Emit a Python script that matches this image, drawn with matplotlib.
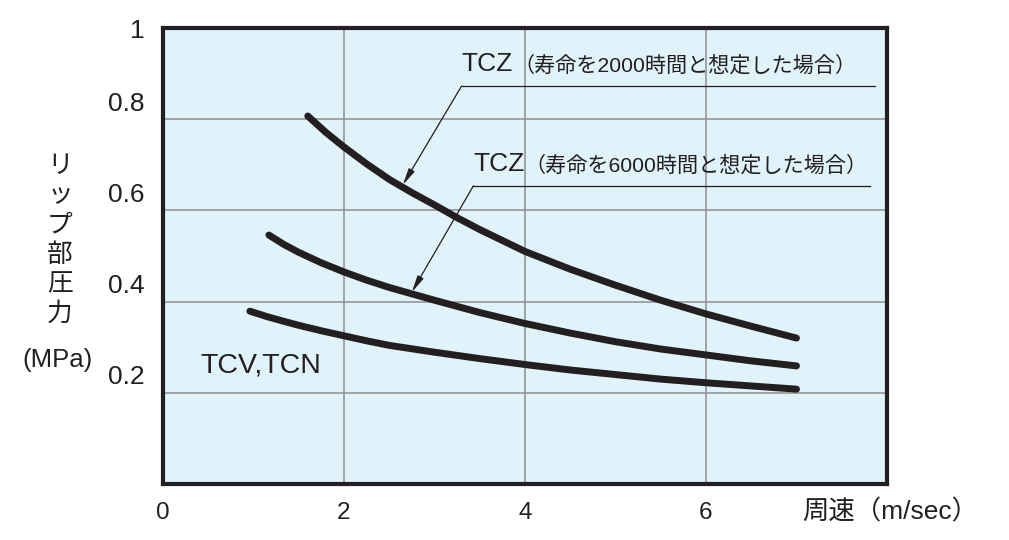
import matplotlib
matplotlib.use("Agg")
import matplotlib.pyplot as plt
import matplotlib.transforms as mtransforms

# data
speed_tcz2000 = [1.6, 1.8, 2.0, 2.25, 2.5, 2.75, 3.0, 3.25, 3.5, 4.0, 4.5, 5.0, 5.5, 6.0, 6.5, 7.0]
press_tcz2000 = [0.807, 0.771, 0.739, 0.702, 0.668, 0.639, 0.612, 0.584, 0.558, 0.51, 0.471, 0.436, 0.403, 0.373, 0.346, 0.32]

speed_tcz6000 = [1.17, 1.33, 1.5, 1.75, 2.0, 2.25, 2.5, 2.75, 3.0, 3.5, 4.0, 4.5, 5.0, 5.5, 6.0, 6.5, 7.0]
press_tcz6000 = [0.546, 0.526, 0.508, 0.485, 0.465, 0.447, 0.431, 0.417, 0.403, 0.376, 0.352, 0.331, 0.312, 0.296, 0.283, 0.27, 0.259]

speed_tcv = [0.96, 1.15, 1.33, 1.5, 1.75, 2.0, 2.25, 2.5, 3.0, 3.5, 4.0, 4.5, 5.0, 5.5, 6.0, 6.5, 7.0]
press_tcv = [0.379, 0.367, 0.357, 0.348, 0.336, 0.325, 0.314, 0.304, 0.289, 0.275, 0.262, 0.25, 0.24, 0.23, 0.222, 0.215, 0.208]

x_ticks = [0, 2, 4, 6]
x_ticklabels = ["0", "2", "4", "6"]
y_ticks = [0.2, 0.4, 0.6, 0.8, 1.0]
y_ticklabels = ["0.2", "0.4", "0.6", "0.8", "1"]

label_2000 = "（寿命を2000時間と想定した場合）"
label_6000 = "（寿命を6000時間と想定した場合）"
label_tcz = "TCZ"
label_tcv = "TCV,TCN"
ylabel_chars = ["リ", "ッ", "プ", "部", "圧", "力"]
ylabel_unit = "(MPa)"
xlabel = "周速（m/sec）"

FONT = ["Liberation Sans", "Noto Sans CJK JP", "DejaVu Sans"]
plt.rcParams["font.family"] = FONT

ink = "#231f20"
bg = "#e0f2fa"
grid_c = "#8e8e8e"

fig = plt.figure(figsize=(10.09, 5.40), dpi=100)
ax = fig.add_axes([163 / 1009, 56 / 540, 724 / 1009, 456 / 540])
ax.set_facecolor(bg)
ax.set_xlim(0, 8)
ax.set_ylim(0, 1)

for s in ax.spines.values():
    s.set_linewidth(3.0)
    s.set_color(ink)

ax.set_xticks(x_ticks)
ax.set_xticklabels(x_ticklabels, fontsize=17.5)
ax.set_yticks(y_ticks)
ax.set_yticklabels(y_ticklabels, fontsize=19)
ax.tick_params(axis="both", length=0, colors=ink)
ax.tick_params(axis="x", pad=13)
ax.tick_params(axis="y", pad=13)
# labels 0.2-0.8 sit a little above their grid lines in the original
shift = mtransforms.ScaledTranslation(0, 18 / 100, fig.dpi_scale_trans)
for lab in ax.get_yticklabels()[:-1]:
    lab.set_transform(lab.get_transform() + shift)

for xv in x_ticks[1:]:
    ax.axvline(xv, color=grid_c, lw=1.1, zorder=1)
for yv in y_ticks[:-1]:
    ax.axhline(yv, color=grid_c, lw=1.1, zorder=1)

for xs, ys in [(speed_tcz2000, press_tcz2000), (speed_tcz6000, press_tcz6000), (speed_tcv, press_tcv)]:
    ax.plot(xs, ys, color=ink, lw=5, solid_capstyle="round", solid_joinstyle="round", zorder=3)

# callouts
arrow_kw = dict(arrowstyle="-|>,head_width=0.2,head_length=1.0", color=ink, lw=0.9, shrinkA=0, shrinkB=0)
callouts = [
    (label_2000, 3.30, 0.873, 7.87, (2.65, 0.656)),
    (label_6000, 3.43, 0.654, 7.81, (2.75, 0.421)),
]
for paren, x0, yline, x1, tip in callouts:
    ax.plot([x0, x1], [yline, yline], color=ink, lw=0.9, zorder=4)
    ax.annotate("", xy=tip, xytext=(x0, yline), arrowprops=arrow_kw, zorder=4)
    t = ax.text(x0, yline + 0.022, label_tcz, fontsize=19, color=ink, ha="left", va="bottom")
    ax.annotate(paren, xy=(1, 0), xycoords=t, ha="left", va="bottom", fontsize=15.2, color=ink)

ax.text(0.41, 0.245, label_tcv, fontsize=20.5, color=ink, ha="left", va="baseline")

# axis titles
for i, ch in enumerate(ylabel_chars):
    fig.text(60 / 1009, 1 - (166 + i * 29.5) / 540, ch, fontsize=18.5, color=ink, ha="center", va="center")
fig.text(57 / 1009, 1 - 360 / 540, ylabel_unit, fontsize=18.5, color=ink, ha="center", va="center")
fig.text(802 / 1009, 1 - 512 / 540, xlabel, fontsize=19, color=ink, ha="left", va="center")

fig.savefig("out.png", dpi=100)
